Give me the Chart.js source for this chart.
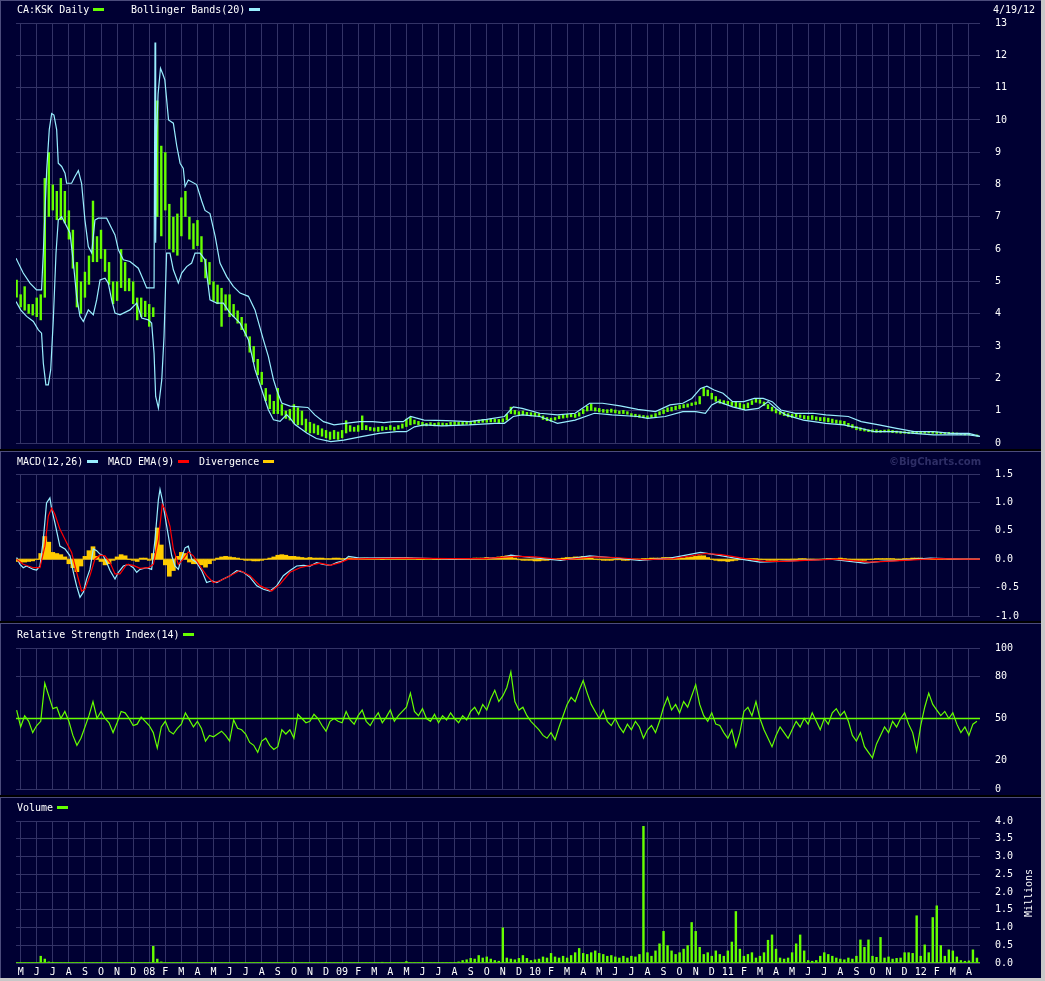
<!DOCTYPE html>
<html>
<head>
<meta charset="utf-8">
<script src="https://cdn.jsdelivr.net/npm/chart.js@4"></script>
<style>
body { margin: 0; background: #c8c8c8; }
#wrap { position: absolute; left: 0; top: 0; width: 1041px; height: 978px; background: #000; overflow: hidden; }
.panel { position: absolute; left: 0; width: 1041px; background: #000033; border-top: 1px solid #4c4c7c; border-left: 1px solid #4c4c7c; box-sizing: border-box; }
canvas { position: absolute; left: 0; }
.t { position: absolute; font: 10px "DejaVu Sans Mono", monospace; line-height: 10px; color: #fff; white-space: pre; }
.sw { position: absolute; width: 11px; height: 3px; }
</style>
</head>
<body>
<div id="wrap">
  <div class="panel" style="top:0;height:449px"></div>
  <div class="panel" style="top:451px;height:170px"></div>
  <div class="panel" style="top:623px;height:172px"></div>
  <div class="panel" style="top:797px;height:181px"></div>

  <canvas id="price" width="1041" height="460" style="top:0"></canvas>
  <canvas id="macd" width="1041" height="180" style="top:451px"></canvas>
  <canvas id="rsi" width="1041" height="180" style="top:624px"></canvas>
  <canvas id="vol" width="1041" height="180" style="top:798px"></canvas>

  <div class="t" style="left:17px;top:5px">CA:KSK Daily</div>
  <div class="sw" style="left:93px;top:8px;background:#66ff00"></div>
  <div class="t" style="left:131px;top:5px">Bollinger Bands(20)</div>
  <div class="sw" style="left:249px;top:8px;background:#99eeff"></div>
  <div class="t" style="left:993px;top:5px">4/19/12</div>

  <div class="t" style="left:17px;top:457px">MACD(12,26)</div>
  <div class="sw" style="left:87px;top:460px;background:#99eeff"></div>
  <div class="t" style="left:108px;top:457px">MACD EMA(9)</div>
  <div class="sw" style="left:178px;top:460px;background:#ff0000"></div>
  <div class="t" style="left:199px;top:457px">Divergence</div>
  <div class="sw" style="left:263px;top:460px;background:#ffcc00"></div>
  <div class="t" style="left:889px;top:456px;font:bold 10px 'DejaVu Sans',sans-serif;color:#2e2e66">©BigCharts.com</div>

  <div class="t" style="left:17px;top:630px">Relative Strength Index(14)</div>
  <div class="sw" style="left:183px;top:633px;background:#66ff00"></div>

  <div class="t" style="left:17px;top:803px">Volume</div>
  <div class="sw" style="left:57px;top:806px;background:#66ff00"></div>
  <div class="t" style="left:1004px;top:888px;width:50px;text-align:center;transform:rotate(-90deg)">Millions</div>
</div>
<script>
// month labels, index 0 = May 2007
const months = ['M','J','J','A','S','O','N','D',
  '08','F','M','A','M','J','J','A','S','O','N','D',
  '09','F','M','A','M','J','J','A','S','O','N','D',
  '10','F','M','A','M','J','J','A','S','O','N','D',
  '11','F','M','A','M','J','J','A','S','O','N','D',
  '12','F','M','A'];

// x range in months (Apr 20 2007 .. Apr 19 2012)
const X_MIN = -0.29, X_MAX = 59.69;
// weekly series: x = START + STEP * i (in months)
const START = -0.25, STEP = 0.25;

const priceHigh = [
  5.05,4.6,4.85,4.3,4.3,4.5,4.6,8.2,9.0,8.0,7.8,8.2,7.8,7.2,6.6,5.6,
  5.0,5.3,5.8,7.5,6.4,6.6,6.0,5.6,5.0,5.0,6.0,5.6,5.1,5.0,4.5,4.5,
  4.4,4.3,4.2,10.6,9.2,9.0,7.4,7.0,7.1,7.6,7.8,7.0,6.8,6.9,6.4,5.7,
  5.6,5.0,4.9,4.8,4.6,4.6,4.3,4.1,3.9,3.7,3.3,3.0,2.6,2.2,1.7,1.5,
  1.3,1.7,1.2,1.0,1.05,1.2,1.1,1.0,0.75,0.65,0.6,0.55,0.45,0.4,0.35,0.4,
  0.35,0.4,0.7,0.55,0.5,0.55,0.85,0.55,0.5,0.48,0.5,0.52,0.5,0.55,0.5,0.55,
  0.6,0.75,0.8,0.72,0.68,0.65,0.62,0.64,0.62,0.64,0.63,0.62,0.65,0.66,0.65,0.66,
  0.68,0.66,0.7,0.72,0.74,0.73,0.76,0.75,0.74,0.76,0.9,1.12,1.02,0.98,1.0,0.96,
  0.95,0.94,0.92,0.85,0.8,0.78,0.8,0.85,0.88,0.9,0.92,0.9,0.95,1.05,1.15,1.22,
  1.1,1.08,1.05,1.04,1.06,1.03,1.0,1.02,0.98,0.92,0.9,0.88,0.86,0.85,0.88,0.92,
  0.98,1.04,1.1,1.12,1.15,1.18,1.2,1.22,1.25,1.28,1.45,1.72,1.65,1.55,1.45,1.35,
  1.32,1.3,1.28,1.3,1.25,1.2,1.25,1.32,1.38,1.35,1.28,1.2,1.12,1.05,0.98,0.96,
  0.92,0.9,0.92,0.88,0.86,0.84,0.86,0.82,0.8,0.8,0.78,0.75,0.72,0.7,0.68,0.62,
  0.58,0.52,0.48,0.45,0.42,0.42,0.42,0.4,0.41,0.42,0.4,0.38,0.37,0.36,0.35,0.37,
  0.36,0.35,0.36,0.37,0.36,0.35,0.34,0.33,0.34,0.33,0.32,0.31,0.3,0.29,0.28,0.26
];
const priceLow = [
  4.5,4.2,4.1,4.0,3.95,3.9,3.8,4.5,7.0,7.2,6.9,6.9,6.8,6.3,5.4,4.2,
  4.0,4.5,4.9,5.6,5.6,5.7,5.3,4.9,4.3,4.4,4.8,4.7,4.7,4.3,3.8,3.9,
  3.9,3.6,3.9,7.0,6.4,7.2,6.0,5.9,5.8,6.4,7.0,6.3,6.0,6.1,5.6,5.1,
  4.9,4.4,4.3,3.6,4.1,3.9,3.9,3.7,3.5,3.3,2.8,2.5,2.1,1.8,1.3,1.05,
  0.9,0.9,0.85,0.75,0.7,0.6,0.55,0.55,0.35,0.3,0.3,0.25,0.2,0.15,0.1,0.12,
  0.1,0.15,0.3,0.35,0.35,0.35,0.4,0.4,0.38,0.36,0.35,0.38,0.4,0.4,0.38,0.42,
  0.45,0.5,0.55,0.58,0.55,0.52,0.52,0.54,0.52,0.54,0.53,0.52,0.55,0.56,0.55,0.56,
  0.57,0.56,0.6,0.62,0.63,0.63,0.64,0.64,0.62,0.64,0.7,0.9,0.88,0.84,0.86,0.84,
  0.83,0.82,0.8,0.72,0.68,0.66,0.7,0.74,0.76,0.78,0.8,0.78,0.82,0.9,0.98,1.0,
  0.98,0.95,0.94,0.92,0.94,0.92,0.9,0.9,0.88,0.82,0.8,0.78,0.77,0.76,0.78,0.8,
  0.86,0.9,0.96,0.98,1.02,1.05,1.08,1.1,1.15,1.18,1.2,1.45,1.45,1.35,1.28,1.22,
  1.2,1.18,1.15,1.1,1.05,1.02,1.08,1.18,1.25,1.22,1.15,1.05,0.98,0.92,0.88,0.84,
  0.8,0.78,0.8,0.78,0.74,0.72,0.72,0.7,0.68,0.66,0.64,0.62,0.6,0.58,0.56,0.5,
  0.46,0.4,0.38,0.36,0.34,0.33,0.32,0.32,0.33,0.33,0.31,0.3,0.29,0.29,0.28,0.29,
  0.29,0.28,0.29,0.3,0.29,0.28,0.28,0.27,0.27,0.27,0.26,0.25,0.24,0.24,0.22,0.2
];

// [month, value] points
const upperBand = [
  [-0.29,5.72],[0.16,5.26],[0.58,4.95],[0.99,4.74],[1.3,4.74],[1.41,5.9],[1.62,8.45],[1.78,9.7],
  [1.93,10.2],[2.07,10.15],[2.24,9.7],[2.34,8.66],[2.55,8.56],[2.76,8.35],[2.86,8.04],[3.17,8.04],
  [3.38,8.25],[3.59,8.43],[3.79,8.04],[4.0,6.9],[4.21,6.08],[4.42,5.88],[4.62,6.9],[4.83,6.96],
  [5.35,6.96],[5.66,6.65],[5.87,6.44],[6.08,5.98],[6.39,5.67],[6.8,5.62],[7.32,5.41],[7.63,5.05],
  [7.84,4.8],[8.3,4.8],[8.36,12.4],[8.4,6.2],[8.46,9.6],[8.55,10.8],[8.7,11.6],[8.86,11.4],
  [8.97,11.24],[9.2,10.0],[9.5,9.9],[9.71,9.2],[9.92,8.66],[10.12,8.5],[10.23,7.94],[10.43,8.14],
  [10.95,8.0],[11.26,7.5],[11.47,7.2],[11.78,7.1],[12.1,6.4],[12.4,5.57],[12.82,5.15],[13.23,4.85],
  [13.65,4.64],[14.17,4.54],[14.58,4.12],[15.1,3.2],[15.41,2.68],[15.73,1.96],[15.93,1.65],[16.24,1.24],
  [16.76,1.14],[17.87,1.1],[18.3,0.87],[18.84,0.66],[19.5,0.56],[20.2,0.61],[21.1,0.66],[21.9,0.66],
  [22.6,0.63],[23.2,0.66],[23.8,0.66],[24.26,0.82],[25.1,0.71],[26.5,0.69],[27.9,0.66],[29.0,0.73],
  [30.1,0.82],[30.65,1.12],[31.2,1.07],[32.3,0.92],[33.4,0.87],[34.5,0.92],[35.4,1.23],[36.2,1.23],
  [37.3,1.15],[38.4,1.04],[39.5,0.97],[40.4,1.18],[41.2,1.23],[41.76,1.38],[42.3,1.69],[42.7,1.76],
  [43.15,1.64],[43.7,1.54],[44.3,1.28],[45.0,1.28],[45.65,1.38],[46.2,1.38],[46.76,1.28],[47.3,1.02],
  [48.2,0.92],[49.3,0.92],[50.1,0.87],[51.5,0.82],[52.3,0.66],[53.4,0.56],[54.5,0.45],[55.6,0.35],
  [56.8,0.35],[57.9,0.3],[59.0,0.3],[59.7,0.2]
];
const lowerBand = [
  [-0.29,4.38],[0.0,4.12],[0.37,3.92],[0.79,3.76],[1.1,3.5],[1.3,3.4],[1.41,2.47],[1.57,1.8],
  [1.72,1.8],[1.87,2.27],[2.03,3.81],[2.2,5.88],[2.34,6.9],[2.55,7.0],[2.76,6.8],[3.07,6.5],
  [3.28,5.57],[3.48,4.54],[3.69,3.92],[3.9,3.76],[4.21,4.12],[4.52,3.97],[4.73,4.43],[4.94,5.05],
  [5.25,5.1],[5.45,4.95],[5.66,4.43],[5.87,4.02],[6.18,3.97],[6.8,4.12],[7.22,4.33],[7.53,3.87],
  [7.94,3.81],[8.15,3.71],[8.3,2.78],[8.4,1.44],[8.57,1.08],[8.78,1.96],[8.92,3.3],[9.08,5.88],
  [9.29,5.88],[9.5,5.36],[9.81,4.95],[10.02,5.26],[10.33,5.46],[10.64,5.57],[10.85,5.88],[11.16,5.88],
  [11.47,5.67],[11.78,4.43],[12.2,4.33],[12.61,4.33],[13.03,4.02],[13.65,3.71],[14.17,3.2],[14.58,2.27],
  [15.0,1.65],[15.41,1.03],[15.73,0.72],[16.14,0.67],[16.55,0.88],[16.8,0.75],[17.07,0.57],[17.8,0.31],
  [18.4,0.14],[19.3,0.04],[20.1,0.09],[21.2,0.2],[22.3,0.3],[23.4,0.35],[24.0,0.35],[24.5,0.5],
  [25.1,0.56],[26.2,0.53],[27.9,0.56],[29.5,0.61],[30.1,0.61],[30.65,0.82],[31.2,0.87],[32.3,0.82],
  [33.4,0.61],[34.5,0.71],[35.7,0.92],[36.8,0.87],[38.4,0.82],[39.0,0.76],[40.1,0.82],[41.2,0.97],
  [42.0,0.97],[42.6,0.92],[43.0,1.18],[43.4,1.28],[44.3,1.12],[45.1,1.02],[45.9,1.07],[46.5,1.28],
  [47.0,1.07],[47.6,0.87],[48.7,0.71],[50.1,0.61],[51.2,0.56],[52.3,0.45],[53.1,0.35],[54.5,0.35],
  [55.6,0.3],[56.8,0.25],[59.0,0.25],[59.7,0.2]
];

const macdLine = [
  [-0.25,0.03],[-0.04,-0.09],[0.16,-0.15],[0.37,-0.12],[0.79,-0.18],[0.99,-0.19],[1.2,-0.12],[1.41,0.35],
  [1.61,0.99],[1.82,1.08],[1.93,0.88],[2.13,0.64],[2.44,0.23],[2.76,0.18],[3.07,0.06],[3.28,-0.23],
  [3.48,-0.47],[3.69,-0.67],[3.9,-0.58],[4.1,-0.35],[4.31,-0.18],[4.52,0.18],[4.73,0.15],[4.93,0.09],
  [5.14,0.06],[5.35,-0.06],[5.56,-0.2],[5.87,-0.35],[6.08,-0.23],[6.39,-0.12],[6.7,-0.09],[7.01,-0.15],
  [7.22,-0.23],[7.42,-0.18],[7.84,-0.15],[8.15,-0.18],[8.36,0.35],[8.57,1.05],[8.67,1.23],[8.81,1.05],
  [8.98,0.76],[9.19,0.41],[9.4,0.06],[9.6,-0.12],[9.81,-0.18],[10.02,0.03],[10.23,0.2],[10.43,0.23],
  [10.64,0.0],[10.95,-0.06],[11.26,-0.2],[11.57,-0.41],[11.89,-0.38],[12.2,-0.41],[12.61,-0.35],[13.03,-0.29],
  [13.44,-0.2],[13.86,-0.23],[14.27,-0.32],[14.69,-0.47],[15.1,-0.53],[15.51,-0.56],[15.93,-0.47],[16.34,-0.29],
  [16.76,-0.2],[17.17,-0.12],[17.59,-0.11],[18.0,-0.12],[18.41,-0.06],[18.83,-0.09],[19.25,-0.11],[19.66,-0.06],
  [20.07,-0.03],[20.4,0.05],[21.1,0.02],[23.6,0.03],[26.7,0.0],[28.6,0.01],[30.0,0.03],[30.5,0.07],
  [31.7,0.03],[33.6,-0.02],[35.4,0.06],[36.7,0.03],[38.5,-0.02],[40.4,0.02],[42.3,0.12],[43.2,0.08],
  [44.8,0.0],[46.0,-0.05],[47.2,-0.04],[48.5,-0.02],[50.4,0.0],[52.5,-0.07],[53.5,-0.04],[54.7,-0.02],
  [56.6,0.02],[58.5,0.0],[59.7,0.0]
];
const macdSignal = [
  [-0.25,0.0],[0.16,-0.09],[0.79,-0.15],[1.2,-0.15],[1.51,0.23],[1.72,0.76],[1.93,0.9],[2.13,0.79],
  [2.44,0.53],[2.86,0.29],[3.17,0.12],[3.48,-0.23],[3.79,-0.56],[4.0,-0.53],[4.31,-0.29],[4.62,0.0],
  [4.93,0.07],[5.25,0.06],[5.56,-0.06],[5.87,-0.26],[6.18,-0.26],[6.6,-0.09],[7.01,-0.11],[7.42,-0.16],
  [7.94,-0.15],[8.26,-0.09],[8.57,0.35],[8.81,0.96],[8.98,0.88],[9.29,0.58],[9.5,0.18],[9.81,-0.09],
  [10.12,0.0],[10.43,0.13],[10.74,0.06],[11.16,-0.12],[11.57,-0.29],[11.99,-0.41],[12.41,-0.38],[13.03,-0.29],
  [13.65,-0.2],[14.27,-0.29],[14.9,-0.47],[15.62,-0.56],[16.14,-0.44],[16.76,-0.23],[17.38,-0.15],[18.0,-0.11],
  [18.63,-0.07],[19.25,-0.11],[19.87,-0.06],[20.4,0.0],[21.5,0.01],[23.6,0.02],[26.7,0.01],[28.8,0.01],
  [30.8,0.05],[32.0,0.04],[33.8,-0.01],[35.7,0.04],[37.0,0.03],[38.8,-0.01],[40.6,0.01],[42.6,0.1],
  [43.6,0.08],[45.1,0.01],[46.3,-0.04],[47.5,-0.04],[48.8,-0.02],[50.7,0.0],[52.8,-0.05],[53.8,-0.04],
  [55.0,-0.02],[56.9,0.01],[58.7,0.0],[59.7,0.0]
];
const divergence = [
  -0.04,-0.05,-0.05,-0.04,-0.03,0,0.1,0.4,0.3,0.12,0.1,0.08,0.04,-0.08,-0.15,-0.22,
  -0.12,0.05,0.15,0.22,0.05,-0.04,-0.1,-0.08,-0.02,0.04,0.08,0.06,0,-0.02,-0.04,0.02,
  0.02,-0.02,0.1,0.55,0.25,-0.1,-0.3,-0.2,0.05,0.12,0.1,-0.05,-0.08,-0.08,-0.1,-0.14,
  -0.08,-0.02,0.02,0.04,0.05,0.04,0.03,0.02,0,-0.02,-0.02,-0.03,-0.03,-0.02,0,0.02,
  0.04,0.07,0.08,0.07,0.05,0.05,0.04,0.03,0.02,0.03,0.02,0.02,0.02,0.01,0.01,0.02,
  0.02,0.01,0.01,0.02,0.01,0.01,0.02,0.02,0.01,0.01,0.01,0,0.01,0.01,0.02,0.02,
  0.02,0.03,0.02,0.01,0,0,0.01,0.01,0,0,0.01,0.01,0,0,0.01,0.01,
  0.01,0.01,0.02,0.02,0.02,0.03,0.02,0.03,0.04,0.05,0.06,0.05,0.02,-0.01,-0.02,-0.02,
  -0.02,-0.03,-0.03,-0.02,-0.02,-0.01,0,0.01,0.02,0.03,0.03,0.04,0.04,0.05,0.04,0.02,
  0,-0.01,-0.02,-0.02,-0.02,-0.01,-0.01,-0.02,-0.02,-0.01,0,0,0.01,0.01,0.02,0.02,
  0.02,0.03,0.03,0.03,0.02,0.02,0.02,0.03,0.04,0.05,0.06,0.06,0.03,0,-0.02,-0.03,
  -0.03,-0.04,-0.03,-0.02,-0.01,0,0.01,0.01,0.01,0,-0.01,-0.02,-0.02,-0.02,-0.01,-0.01,
  -0.01,0,0,0.01,0.01,0,0,-0.01,-0.01,0,0.01,0.01,0.01,0.02,0.01,0,
  -0.01,-0.02,-0.02,-0.02,-0.01,0,0.01,0.01,0.01,0.01,0.01,0,0,0.01,0.01,0.02,
  0.02,0.02,0.01,0.01,0,0,0,0.01,0,0,0,0,0,0,0,0
];

const rsi = [
  56,44,52,48,40,45,48,75,66,57,58,50,55,48,38,31,
  36,44,52,62,50,55,50,47,40,47,55,54,50,45,46,51,
  48,45,40,29,44,48,41,39,43,46,54,49,44,48,43,34,
  38,37,39,41,38,34,49,43,42,39,33,31,26,34,36,31,
  28,30,42,39,42,36,53,50,47,48,53,50,45,41,48,50,
  48,47,55,49,46,52,56,48,45,50,54,47,51,56,48,52,
  55,58,68,55,52,57,50,48,53,47,52,49,54,50,47,52,
  49,55,58,53,60,56,64,70,62,66,72,83,62,56,58,52,
  48,45,42,38,36,40,35,44,52,60,65,62,70,77,68,60,
  55,50,56,48,45,50,44,40,46,42,48,44,36,42,45,40,
  48,58,65,56,60,54,62,58,66,74,60,52,48,54,46,45,
  40,36,42,30,40,55,58,52,62,50,42,36,30,38,44,40,
  36,42,48,44,50,46,54,48,42,50,46,54,57,52,55,48,
  38,34,40,30,26,22,32,38,44,40,48,44,50,54,46,40,
  27,45,58,68,60,56,52,55,50,54,46,40,44,38,46,48
];
const RSI_MID = 50;

// millions of shares
const volume = [
  0.01,0.01,0.01,0.01,0.01,0.01,0.2,0.12,0.04,0.03,0.01,0.01,0.01,0.01,0.01,0.01,
  0.01,0.01,0.01,0.01,0.01,0.01,0.01,0.01,0.01,0.01,0.01,0.01,0.01,0.01,0.01,0.01,
  0.01,0.01,0.48,0.12,0.04,0.01,0.01,0.01,0.01,0.01,0.01,0.01,0.01,0.01,0.01,0.01,
  0.01,0.01,0.01,0.01,0.01,0.01,0.01,0.01,0.01,0.01,0.01,0.01,0.01,0.01,0.01,0.01,
  0.01,0.01,0.01,0.01,0.01,0.03,0.01,0.01,0.01,0.01,0.01,0.01,0.01,0.03,0.01,0.01,
  0.01,0.01,0.01,0.01,0.01,0.01,0.01,0.01,0.01,0.01,0.01,0.03,0.01,0.01,0.01,0.01,
  0.01,0.05,0.02,0.02,0.02,0.02,0.02,0.02,0.02,0.02,0.02,0.02,0.02,0.02,0.04,0.08,
  0.1,0.14,0.12,0.22,0.15,0.18,0.12,0.08,0.06,1.0,0.15,0.12,0.1,0.14,0.22,0.14,
  0.08,0.1,0.12,0.18,0.15,0.28,0.18,0.15,0.2,0.15,0.22,0.3,0.42,0.28,0.25,0.3,
  0.35,0.28,0.25,0.2,0.22,0.18,0.15,0.2,0.15,0.2,0.18,0.25,3.86,0.3,0.2,0.35,
  0.55,0.9,0.5,0.35,0.25,0.3,0.4,0.5,1.15,0.9,0.45,0.25,0.3,0.2,0.35,0.25,
  0.2,0.35,0.6,1.46,0.4,0.2,0.25,0.3,0.15,0.2,0.3,0.65,0.8,0.4,0.15,0.12,
  0.15,0.3,0.55,0.8,0.35,0.08,0.06,0.08,0.2,0.3,0.25,0.2,0.15,0.12,0.1,0.15,
  0.12,0.2,0.66,0.45,0.66,0.2,0.17,0.73,0.15,0.18,0.12,0.14,0.15,0.3,0.3,0.28,
  1.34,0.2,0.52,0.3,1.29,1.62,0.5,0.2,0.38,0.35,0.18,0.08,0.06,0.07,0.38,0.15
];

const GREEN = '#66ff00', CYAN = '#99eeff', RED = '#ff0000', YELLOW = '#ffcc00';
const GRID = '#333366';
const FONT = { family: 'DejaVu Sans Mono', size: 10 };

const weekly = arr => arr.map((v, i) => ({ x: START + STEP * i, y: v }));
const pts = arr => arr.map(p => ({ x: p[0], y: p[1] }));
const level = v => [{ x: X_MIN, y: v }, { x: X_MAX, y: v }];

function xScale(showLabels) {
  return {
    type: 'linear', min: X_MIN, max: X_MAX, offset: false,
    afterBuildTicks: s => { s.ticks = months.map((m, i) => ({ value: i })); },
    afterFit: s => { s.height = showLabels ? 15 : 0; },
    grid: { color: GRID, drawTicks: false, offset: false },
    border: { display: false },
    ticks: {
      display: showLabels, autoSkip: false, maxRotation: 0, minRotation: 0,
      padding: 3, color: '#fff', font: FONT, callback: v => months[v]
    }
  };
}

// labels sit 15px right of the plot; an invisible tick mark makes the gap
function yScale(min, max, vals, fmt) {
  return {
    position: 'right', min: min, max: max,
    afterBuildTicks: s => { s.ticks = vals.map(v => ({ value: v })); },
    afterFit: s => { s.width = 61; },
    grid: { drawTicks: true, tickLength: 15, tickColor: 'rgba(0,0,0,0)', color: GRID },
    border: { display: false },
    ticks: { color: '#fff', font: FONT, padding: 0, callback: fmt }
  };
}

const common = {
  responsive: false, animation: false, devicePixelRatio: 1, events: [],
  plugins: { legend: { display: false }, tooltip: { enabled: false } }
};
const lineStyle = (color, width) => ({ type: 'line', borderColor: color, borderWidth: width, pointRadius: 0, fill: false });

//price + bollinger
new Chart(document.getElementById('price'), {
  type: 'bar',
  data: {
    datasets: [
      { ...lineStyle(CYAN, 1.2), data: pts(upperBand), order: 0 },
      { ...lineStyle(CYAN, 1.2), data: pts(lowerBand), order: 0 },
      { type: 'bar', data: priceHigh.map((h, i) => ({ x: START + STEP * i, y: [priceLow[i], h] })),
        backgroundColor: GREEN, barPercentage: 0.6, categoryPercentage: 1, order: 1 }
    ]
  },
  options: {
    ...common,
    layout: { padding: { left: 16, right: 0, top: 23, bottom: 17 } },
    scales: {
      x: xScale(false),
      y: yScale(0, 13, [0,1,2,3,4,5,6,7,8,9,10,11,12,13], v => v)
    }
  }
});

//macd
new Chart(document.getElementById('macd'), {
  type: 'bar',
  data: {
    datasets: [
      { ...lineStyle(RED, 1.2), data: pts(macdSignal), order: 0 },
      { ...lineStyle(CYAN, 1.2), data: pts(macdLine), order: 1 },
      { ...lineStyle(YELLOW, 1), data: level(0), order: 2 },
      { type: 'bar', data: weekly(divergence), backgroundColor: YELLOW,
        barPercentage: 1, categoryPercentage: 1, order: 3 }
    ]
  },
  options: {
    ...common,
    layout: { padding: { left: 16, right: 0, top: 23, bottom: 15 } },
    scales: {
      x: xScale(false),
      y: yScale(-1, 1.5, [-1,-0.5,0,0.5,1,1.5], v => v.toFixed(1))
    }
  }
});

//rsi
new Chart(document.getElementById('rsi'), {
  type: 'line',
  data: {
    datasets: [
      { ...lineStyle(GREEN, 1.2), data: weekly(rsi) },
      { ...lineStyle(GREEN, 1.5), data: level(RSI_MID) }
    ]
  },
  options: {
    ...common,
    layout: { padding: { left: 16, right: 0, top: 24, bottom: 15 } },
    scales: {
      x: xScale(false),
      y: yScale(0, 100, [0,20,50,80,100], v => v)
    }
  }
});

//volume
new Chart(document.getElementById('vol'), {
  type: 'bar',
  data: {
    datasets: [
      { ...lineStyle(GREEN, 1.5), data: level(0), order: 0 },
      { type: 'bar', data: weekly(volume), backgroundColor: GREEN, barPercentage: 0.6, categoryPercentage: 1, order: 1 }
    ]
  },
  options: {
    ...common,
    layout: { padding: { left: 16, right: 0, top: 23, bottom: 0 } },
    scales: {
      x: xScale(true),
      y: yScale(0, 4, [0,0.5,1,1.5,2,2.5,3,3.5,4], v => v.toFixed(1))
    }
  }
});
</script>
</body>
</html>
